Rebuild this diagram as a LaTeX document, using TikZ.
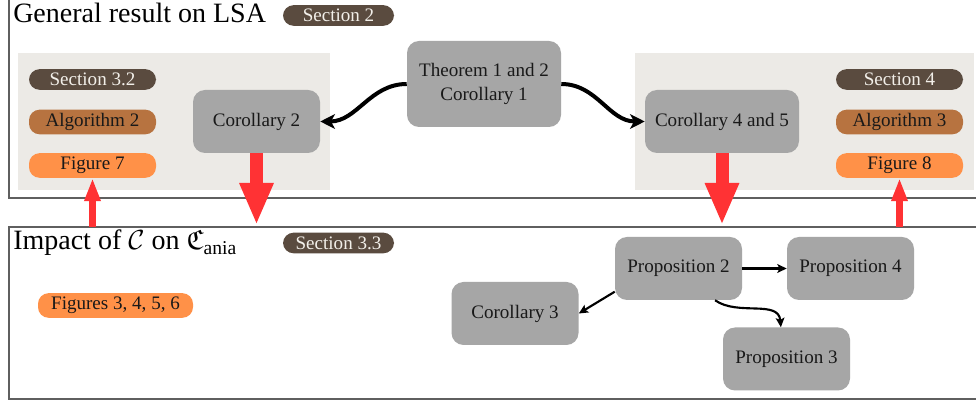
\documentclass[tikz,border=0pt]{standalone}
\usepackage{amssymb}
\usepackage{fontspec}
\setmainfont{Liberation Serif}
\usetikzlibrary{arrows.meta}
\definecolor{boxgray}{RGB}{166,166,166}
\definecolor{panelgray}{RGB}{236,234,230}
\definecolor{secbrown}{RGB}{90,75,63}
\definecolor{algbrown}{RGB}{183,115,64}
\definecolor{figorange}{RGB}{255,145,72}
\definecolor{redarr}{RGB}{255,50,52}
\definecolor{framegray}{RGB}{95,95,95}
\definecolor{txt}{RGB}{25,25,25}
\definecolor{seclight}{RGB}{242,239,233}
\tikzset{
  frame/.style={draw=framegray, line width=1pt},
  gbox/.style={fill=boxgray, rounded corners=9pt, minimum width=95.25pt, minimum height=47.25pt,
    inner sep=0pt, text=txt, font=\fontsize{14.3}{17.5}\selectfont, align=center},
  pill/.style={rounded corners=8pt, inner xsep=0pt, inner ysep=3pt, text height=9.5pt, text depth=3pt,
    font=\fontsize{14.3}{16}\selectfont, text=txt},
  secpill/.style={pill, fill=secbrown, text=seclight, text depth=0pt},
  algpill/.style={pill, fill=algbrown},
  figpill/.style={pill, fill=figorange},
  title/.style={anchor=base west, inner sep=0pt, font=\fontsize{21}{24}\selectfont, text=black},
  thickarrow/.style={draw=black, line width=3pt, -{Stealth[length=11pt,width=11pt,inset=3pt]}},
  thinarrow/.style={draw=black, line width=1.6pt, -{Stealth[length=7pt,width=6.5pt,inset=1.5pt]}},
  redfat/.style={draw=redarr, line width=9.75pt, -{Triangle[length=31.5pt,width=23.5pt]}},
  redthin/.style={draw=redarr, line width=4.8pt, -{Triangle[length=17.25pt,width=11.25pt]}}
}
\begin{document}
\begin{tikzpicture}[x=0.75pt,y=-0.75pt]
\useasboundingbox (0,0) rectangle (976,402);
\clip (0,0) rectangle (976,402);
\fill[white] (0,0) rectangle (976,402);
% frames
\draw[frame] (9,-10) rectangle (990,198);
\draw[frame] (9,227) rectangle (990,399);
% panels
\fill[panelgray] (18,53) rectangle (330,190);
\fill[panelgray] (635,53) rectangle (974,190);
% titles
\node[title] (t1) at (13,22.5) {General result on LSA};
\node[title] (t2) at (13,250) {Impact of $\mathcal{C}$ on $\mathfrak{C}_{\mathrm{ania}}$};
% section pills
\node[secpill, minimum width=83.25pt] (sec2) at (338.5,15.5) {Section 2};
\node[secpill, minimum width=83.25pt] (sec33) at (338.5,243) {Section 3.3};
\node[figpill, minimum width=116.25pt] (figs) at (115.5,305.5) {Figures 3, 4, 5, 6};
% left panel pills
\node[secpill, minimum width=95.25pt] (sec32) at (92.5,79.5) {Section 3.2};
\node[algpill, minimum width=95.25pt] (alg2) at (92.5,122) {Algorithm 2};
\node[figpill, minimum width=95.25pt] (fig7) at (92.5,165.5) {Figure 7};
% right panel pills
\node[secpill, minimum width=95.25pt] (sec4) at (899.5,79.5) {Section 4};
\node[algpill, minimum width=95.25pt] (alg3) at (899.5,122) {Algorithm 3};
\node[figpill, minimum width=95.25pt] (fig8) at (899.5,165.5) {Figure 8};
% main boxes
\node[gbox, minimum width=115.5pt, minimum height=64.5pt] (thm) at (484,84) {Theorem 1 and 2\\Corollary 1};
\node[gbox] (cor2) at (256.5,121.5) {Corollary 2};
\node[gbox, minimum width=115.5pt] (cor45) at (722,121.5) {Corollary 4 and 5};
\node[gbox] (p2) at (678.5,268.5) {Proposition 2};
\node[gbox] (p4) at (850.5,268.5) {Proposition 4};
\node[gbox] (c3) at (515,313.5) {Corollary 3};
\node[gbox] (p3) at (786.5,359) {Proposition 3};
% black arrows
\draw[thickarrow] (thm.west) to[out=180,in=0] (cor2.east);
\draw[thickarrow] (thm.east) to[out=0,in=180] (cor45.west);
\draw[thinarrow] (p2.east) -- (p4.west);
\draw[thinarrow] (p2.200) -- (c3.east);
\draw[thinarrow] (p2.-41) to[out=-35,in=95] (p3.100);
% red arrows
\coordinate (r1) at (256.5,225);
\coordinate (r2) at (722,225);
\coordinate (u1) at (92.5,227);
\coordinate (u2) at (899.5,227);
\draw[redfat] (cor2.south) -- (r1);
\draw[redfat] (cor45.south) -- (r2);
\draw[redthin] (u1) -- (fig7.south);
\draw[redthin] (u2) -- (fig8.south);
\end{tikzpicture}
\end{document}
